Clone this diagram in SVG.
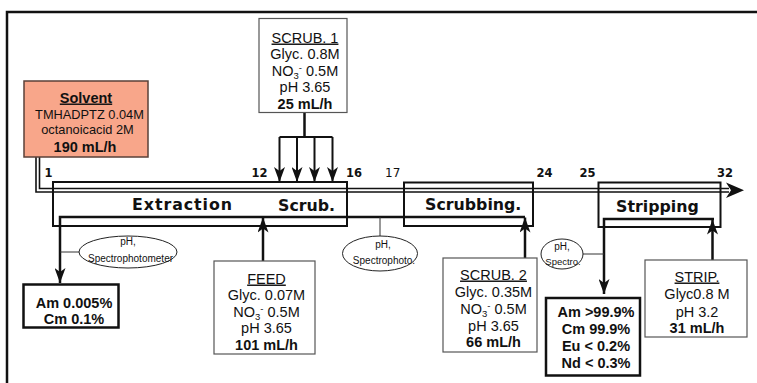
<svg xmlns="http://www.w3.org/2000/svg" width="757" height="383" viewBox="0 0 757 383">
<style>
text{font-family:"Liberation Sans",Arial,sans-serif;fill:#111;}
.bx{font-size:14.5px;text-anchor:middle;}
.b{font-weight:bold;}
.u{text-decoration:underline;}
.num{font-family:"DejaVu Sans",Verdana,sans-serif;font-weight:bold;font-size:11.5px;}
.stage{font-family:"DejaVu Sans",Verdana,sans-serif;font-weight:bold;font-size:15.8px;}
.el{font-size:10px;text-anchor:middle;}
.feedbox{fill:#fff;stroke:#555;stroke-width:1.2;}
.resbox{fill:#fff;stroke:#111;stroke-width:2.5;}
.stagebox{fill:none;stroke:#111;stroke-width:2;}
.ell{fill:#fff;stroke:#222;stroke-width:1;}
.flow{fill:none;stroke:#111;stroke-width:2.5;}
.thin{fill:none;stroke:#333;stroke-width:1;}
.main{fill:none;stroke:#111;stroke-width:1.6;}
.sub{font-size:9.5px;}
</style>
<defs>
<marker id="ah" markerUnits="userSpaceOnUse" markerWidth="15" markerHeight="11" refX="15" refY="5.5" orient="auto" viewBox="0 0 15 11">
<path d="M0,0 L15,5.5 L0,11 L4,5.5 z" fill="#111"/>
</marker>
</defs>

<path d="M7,383 V12 H757" fill="none" stroke="#111" stroke-width="2.5"/>

<g id="connectors">
<path class="main" d="M36,157 V192 H729"/>
<path class="main" d="M39.5,157 V188.5 H729"/>
<polygon points="726,182.5 744,190.2 726,198 731,190.2" fill="#111"/>
<path class="flow" d="M304.5,112.7 V137"/>
<path fill="none" stroke="#111" stroke-width="2" d="M279.5,137 H332.5"/>
<path fill="none" stroke="#111" stroke-width="2" marker-end="url(#ah)" d="M279.5,137 V182"/>
<path fill="none" stroke="#111" stroke-width="2" marker-end="url(#ah)" d="M297,137 V182"/>
<path fill="none" stroke="#111" stroke-width="2" marker-end="url(#ah)" d="M314.5,137 V182"/>
<path fill="none" stroke="#111" stroke-width="2" marker-end="url(#ah)" d="M332.5,137 V182"/>
<path class="flow" d="M525,217 H60 V283" marker-end="url(#ah)"/>
<path class="flow" d="M263,261 V217.5" marker-end="url(#ah)"/>
<path class="flow" d="M525,258 V217.5" marker-end="url(#ah)"/>
<path class="flow" d="M714,219 H604 V294" marker-end="url(#ah)"/>
<path class="flow" d="M712.5,260 V219.5" marker-end="url(#ah)"/>
<path class="thin" d="M60,252 H79"/>
<path class="thin" d="M380,217 V236"/>
<path class="thin" d="M583,254 H604"/>
</g>

<g id="stage-extraction">
<rect class="stagebox" x="53" y="182" width="294" height="44"/>
<text class="stage" x="132" y="210" textLength="100" lengthAdjust="spacing">Extraction</text>
<text class="stage" x="278" y="211">Scrub.</text>
</g>
<g id="stage-scrubbing">
<rect class="stagebox" x="404" y="182.5" width="129" height="43.5"/>
<text class="stage" x="425" y="210">Scrubbing.</text>
</g>
<g id="stage-stripping">
<rect class="stagebox" x="598.5" y="182.5" width="122" height="44.5"/>
<text class="stage" x="616" y="211.5">Stripping</text>
</g>

<g id="stage-numbers">
<text class="num" x="44.5" y="176.5">1</text>
<text class="num" x="251.5" y="176.5">12</text>
<text class="num" x="346" y="176.5">16</text>
<text x="385" y="176.5" style="font-family:'DejaVu Sans',Verdana,sans-serif;font-size:12px">17</text>
<text class="num" x="536.5" y="176.5">24</text>
<text class="num" x="579.5" y="176.5">25</text>
<text class="num" x="717" y="176.5">32</text>
</g>

<g id="solvent">
<rect x="24" y="81" width="124" height="76" fill="#F8A68A" stroke="#5a4038" stroke-width="1.5"/>
<text class="bx b u" x="86" y="102.5">Solvent</text>
<text x="89.5" y="118.5" style="font-size:12.8px;text-anchor:middle">TMHADPTZ 0.04M</text>
<text x="87.5" y="133.5" style="font-size:12.8px;text-anchor:middle">octanoicacid 2M</text>
<text class="bx b" x="85" y="151.5">190 mL/h</text>
</g>

<g id="scrub1">
<rect class="feedbox" x="259" y="18.5" width="88" height="94"/>
<text class="bx u" x="305" y="42.5">SCRUB. 1</text>
<text class="bx" x="305" y="59">Glyc. 0.8M</text>
<text class="bx" x="305" y="75.5">NO<tspan class="sub" dy="3">3</tspan><tspan class="sub" dy="-8">-</tspan><tspan dy="5"> 0.5M</tspan></text>
<text class="bx" x="305" y="92">pH 3.65</text>
<text class="bx b" x="305" y="108.5">25 mL/h</text>
</g>

<g id="feed">
<rect class="feedbox" x="214" y="261" width="101" height="93"/>
<text class="bx u" x="266.5" y="283.5">FEED</text>
<text class="bx" x="266.5" y="300">Glyc. 0.07M</text>
<text class="bx" x="266.5" y="316.5">NO<tspan class="sub" dy="3">3</tspan><tspan class="sub" dy="-8">-</tspan><tspan dy="5"> 0.5M</tspan></text>
<text class="bx" x="266.5" y="333">pH 3.65</text>
<text class="bx b" x="266.5" y="349.5">101 mL/h</text>
</g>

<g id="scrub2">
<rect class="feedbox" x="443" y="258" width="94" height="94"/>
<text class="bx u" x="493.5" y="279.5">SCRUB. 2</text>
<text class="bx" x="493.5" y="296.5">Glyc. 0.35M</text>
<text class="bx" x="493.5" y="313.5">NO<tspan class="sub" dy="3">3</tspan><tspan class="sub" dy="-8">-</tspan><tspan dy="5"> 0.5M</tspan></text>
<text class="bx" x="493.5" y="330.5">pH 3.65</text>
<text class="bx b" x="493.5" y="347">66 mL/h</text>
</g>

<g id="strip">
<rect class="feedbox" x="645" y="260" width="102" height="77"/>
<text class="bx u" x="697" y="281.5">STRIP.</text>
<text class="bx" x="697" y="299">Glyc0.8 M</text>
<text class="bx" x="697" y="316.5">pH 3.2</text>
<text class="bx b" x="697" y="333">31 mL/h</text>
</g>

<g id="raffinate">
<rect class="resbox" x="23.5" y="284.5" width="95" height="43"/>
<text class="bx b" x="74" y="307.5">Am 0.005%</text>
<text class="bx b" x="74" y="323.5">Cm 0.1%</text>
</g>

<g id="product">
<rect class="resbox" x="546" y="298" width="94" height="77.5"/>
<text class="bx b" x="596" y="316.5">Am &gt;99.9%</text>
<text class="bx b" x="596" y="333.5">Cm 99.9%</text>
<text class="bx b" x="596" y="351">Eu &lt; 0.2%</text>
<text class="bx b" x="596" y="368">Nd &lt; 0.3%</text>
</g>

<g id="sensor1">
<ellipse class="ell" cx="128" cy="252" rx="49" ry="16"/>
<text class="el" x="128" y="245">pH,</text>
<text class="el" x="130.5" y="261.5">Spectrophotometer</text>
</g>
<g id="sensor2">
<ellipse class="ell" cx="380" cy="253.5" rx="37.5" ry="17.5"/>
<text class="el" x="383" y="248">pH,</text>
<text class="el" x="384" y="264">Spectrophoto.</text>
</g>
<g id="sensor3">
<ellipse class="ell" cx="562" cy="254" rx="21" ry="15"/>
<text class="el" x="562" y="249.5">pH,</text>
<text class="el" x="563" y="264.5" style="font-size:9.5px">Spectro.</text>
</g>
</svg>
